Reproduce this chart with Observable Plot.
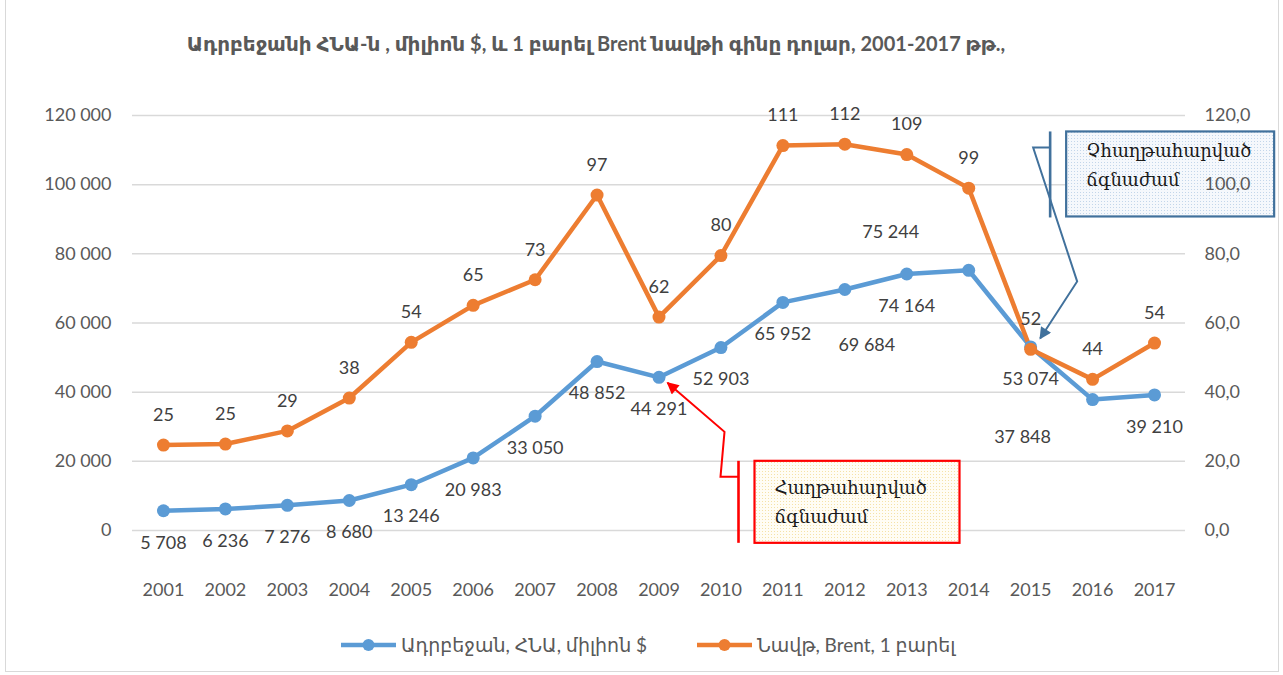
<!DOCTYPE html>
<html>
<head>
<meta charset="utf-8">
<script src="https://cdn.jsdelivr.net/npm/d3@7"></script>
<script src="https://cdn.jsdelivr.net/npm/@observablehq/plot@0.6"></script>
<style>
  body { margin: 0; background: #fff; }
  #wrap { position: relative; width: 1283px; height: 675px; overflow: hidden; font-family: Lato, "DejaVu Sans", sans-serif; }
  #frame { position: absolute; left: 5px; top: -2px; width: 1274px; height: 674px; border: 1px solid #d9d9d9; box-sizing: border-box; }
  #title { position: absolute; top: 31px; left: 596px; transform: translateX(-50%); white-space: nowrap; font-weight: bold; font-size: 20px; color: #595959; }
  #chart { position: absolute; top: 90px; left: 0; }
  .leg { position: absolute; top: 633px; font-size: 19px; color: #595959; white-space: nowrap; display: flex; align-items: center; }
  .leg svg { margin-right: 5px; }
</style>
</head>
<body>
<div id="wrap">
  <div id="frame"></div>
  <div id="title">Ադրբեջանի ՀՆԱ-ն , միլիոն $, և 1 բարել Brent նավթի գինը դոլար, 2001-2017 թթ.,</div>
  <div id="chart"></div>
  <div class="leg" style="left:341px"><svg width="55" height="16"><line x1="0" x2="55" y1="8" y2="8" stroke="#5B9BD5" stroke-width="4.5"/><circle cx="27.5" cy="8" r="6" fill="#5B9BD5"/></svg><span>Ադրբեջան, ՀՆԱ, միլիոն $</span></div>
  <div class="leg" style="left:697px"><svg width="55" height="16"><line x1="0" x2="55" y1="8" y2="8" stroke="#ED7D31" stroke-width="4.5"/><circle cx="27.5" cy="8" r="6" fill="#ED7D31"/></svg><span>Նավթ, Brent, 1 բարել</span></div>
</div>
<script>
const years = ["2001","2002","2003","2004","2005","2006","2007","2008","2009","2010","2011","2012","2013","2014","2015","2016","2017"];
const gdp = [5708, 6236, 7276, 8680, 13246, 20983, 33050, 48852, 44291, 52903, 65952, 69684, 74164, 75244, 53074, 37848, 39210];
const oil = [24.7, 25.0, 28.8, 38.3, 54.4, 65.1, 72.5, 97.0, 61.7, 79.5, 111.3, 111.7, 108.7, 99.0, 52.4, 43.7, 54.2];
const leftTicks = [0, 20000, 40000, 60000, 80000, 100000, 120000];
const rightTicks = [0, 20, 40, 60, 80, 100, 120];
const seriesNames = ["Ադրբեջան, ՀՆԱ, միլիոն $", "Նավթ, Brent, 1 բարել"];

const data = years.map((year, i) => ({year, gdp: gdp[i], oil: oil[i]}));
const OIL_TO_LEFT = 1000; // right axis 0..120 maps onto left axis 0..120000

const loc = d3.formatLocale({decimal: ",", thousands: " ", grouping: [3], currency: ["", "$"]});
const fmtGdp = loc.format(",d");
const fmtRight = loc.format(".1f");

const blue = "#5B9BD5", orange = "#ED7D31";
const labelStyle = {fill: "#404040", fontSize: 18};
const special = ["2012", "2014", "2016"];

const chart = Plot.plot({
  width: 1283,
  height: 530,
  marginTop: 25,
  marginBottom: 90,
  marginLeft: 132,
  marginRight: 98,
  style: {fontFamily: 'Lato, "DejaVu Sans", sans-serif', fontSize: "18px", color: "#595959", background: "transparent"},
  x: {type: "point", domain: years, padding: 0.5, round: false, label: null},
  y: {domain: [0, 120000], label: null},
  marks: [
    Plot.gridY(leftTicks, {stroke: "#d9d9d9", strokeOpacity: 1, strokeWidth: 1.5}),
    Plot.axisY(leftTicks, {anchor: "left", tickSize: 0, tickPadding: 21, tickFormat: fmtGdp, fill: "#595959", fontSize: 18, label: null}),
    Plot.axisY(rightTicks.map(v => v * OIL_TO_LEFT), {anchor: "right", tickSize: 0, tickPadding: 19, tickFormat: d => fmtRight(d / OIL_TO_LEFT), fill: "#595959", fontSize: 18, label: null}),
    Plot.axisX({tickSize: 0, tickPadding: 53, fill: "#595959", fontSize: 18, label: null}),
    Plot.line(data, {x: "year", y: "gdp", stroke: blue, strokeWidth: 4.5}),
    Plot.line(data, {x: "year", y: d => d.oil * OIL_TO_LEFT, stroke: orange, strokeWidth: 4.5}),
    Plot.dot(data, {x: "year", y: "gdp", r: 6.5, fill: blue}),
    Plot.dot(data, {x: "year", y: d => d.oil * OIL_TO_LEFT, r: 6.5, fill: orange}),
    Plot.text(data, {filter: d => !special.includes(d.year), x: "year", y: "gdp", text: d => fmtGdp(d.gdp), dy: 32, ...labelStyle}),
    Plot.text(data, {filter: d => d.year === "2012", x: "year", y: "gdp", text: d => fmtGdp(d.gdp), dx: 22, dy: 56, ...labelStyle}),
    Plot.text(data, {filter: d => d.year === "2014", x: "year", y: "gdp", text: d => fmtGdp(d.gdp), dx: -78, dy: -38, ...labelStyle}),
    Plot.text(data, {filter: d => d.year === "2016", x: "year", y: "gdp", text: d => fmtGdp(d.gdp), dx: -70, dy: 38, ...labelStyle}),
    Plot.text(data, {x: "year", y: d => d.oil * OIL_TO_LEFT, text: d => d3.format(".0f")(d.oil), dy: -30, ...labelStyle})
  ]
});
document.getElementById("chart").appendChild(chart);

// ---- callout annotations anchored to data points ----
const xs = chart.scale("x"), ys = chart.scale("y");
const sel = d3.select(chart);
const defs = sel.append("defs");
const pb = defs.append("pattern").attr("id", "patBlue").attr("width", 3).attr("height", 3).attr("patternUnits", "userSpaceOnUse");
pb.append("rect").attr("width", 3).attr("height", 3).attr("fill", "#f5f8fc");
pb.append("rect").attr("width", 1).attr("height", 1).attr("fill", "#c3d6ea");
const pr = defs.append("pattern").attr("id", "patRed").attr("width", 3).attr("height", 3).attr("patternUnits", "userSpaceOnUse");
pr.append("rect").attr("width", 3).attr("height", 3).attr("fill", "#fffdf5");
pr.append("rect").attr("width", 1).attr("height", 1).attr("fill", "#f5e2a8");
function marker(id, color) {
  defs.append("marker").attr("id", id).attr("viewBox", "0 0 10 10").attr("refX", 9).attr("refY", 5)
    .attr("markerWidth", 16).attr("markerHeight", 12).attr("markerUnits", "userSpaceOnUse").attr("orient", "auto")
    .append("path").attr("d", "M0,0 L10,5 L0,10 z").attr("fill", color);
}
marker("arrBlue", "#41719C");
marker("arrRed", "#FF0000");

const ann = document.createElementNS("http://www.w3.org/2000/svg", "g");
const grid = chart.querySelector('[aria-label="y-grid"]');
if (grid && grid.nextSibling) chart.insertBefore(ann, grid.nextSibling); else chart.appendChild(ann);
const g = d3.select(ann);

function callout(year, color, fill, lines, geo) {
  const d = data.find(e => e.year === year);
  const px = xs.apply(year), py = ys.apply(d.gdp);
  const P = ([dx, dy]) => [px + dx, py + dy];
  g.append("rect").attr("x", px + geo.box[0]).attr("y", py + geo.box[1]).attr("width", geo.box[2]).attr("height", geo.box[3])
    .attr("fill", fill).attr("stroke", color).attr("stroke-width", 2.2);
  g.append("line").attr("x1", px + geo.bar[0]).attr("x2", px + geo.bar[0]).attr("y1", py + geo.bar[1]).attr("y2", py + geo.bar[2])
    .attr("stroke", color).attr("stroke-width", 2.6);
  const pts = geo.path.map(P);
  g.append("path").attr("d", "M" + pts.map(p => p.join(",")).join("L")).attr("fill", "none")
    .attr("stroke", color).attr("stroke-width", 2).attr("marker-end", `url(#${geo.marker})`);
  const t = g.append("text").attr("text-anchor", "start").attr("font-family", '"DejaVu Serif", serif').attr("font-size", 18).attr("fill", "#1a1a1a");
  lines.forEach((s, i) => t.append("tspan").attr("x", px + geo.text[0]).attr("y", py + geo.text[1] + i * 29).text(s));
}
// overcome crisis (2009)
callout("2009", "#FF0000", "url(#patRed)", ["Հաղթահարված", "ճգնաժամ"], {
  box: [96, 84, 205, 82], bar: [80, 84, 166],
  path: [[80, 100], [62, 100], [66, 55], [9, 6]], marker: "arrRed", text: [116, 117]
});
// not overcome crisis (2015)
callout("2015", "#41719C", "url(#patBlue)", ["Չհաղթահարված", "ճգնաժամ"], {
  box: [36, -215, 208, 85], bar: [20, -215, -129],
  path: [[20, -199], [3, -199], [47, -65], [10, -8]], marker: "arrBlue", text: [56, -189]
});
</script>
</body>
</html>
